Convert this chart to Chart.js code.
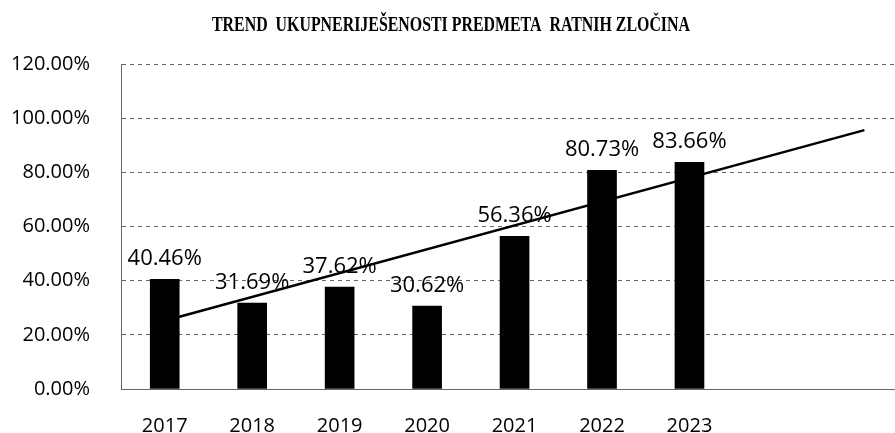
<!DOCTYPE html>
<html>
<head>
<meta charset="utf-8">
<script src="https://cdn.jsdelivr.net/npm/chart.js@4/dist/chart.umd.min.js"></script>
<style>
  html, body { margin: 0; padding: 0; background: #fff; overflow: hidden; }
  #wrap { width: 895px; height: 433px; position: relative; }
</style>
</head>
<body>
<div id="wrap"><canvas id="c"></canvas></div>
<script>
const chartTitle = 'TREND  UKUPNERIJEŠENOSTI PREDMETA  RATNIH ZLOČINA';
const years = ['2017', '2018', '2019', '2020', '2021', '2022', '2023'];
const resolvedPct = [40.46, 31.69, 37.62, 30.62, 56.36, 80.73, 83.66];
// linear trend line as drawn in the picture (start at 2017, extended two periods past 2023)
const trendX = [0, 8];
const trendPct = [25.2, 95.6];
const yTicks = [0, 20, 40, 60, 80, 100, 120];

const titlePlugin = {
  id: 'titleText',
  afterDraw(chart) {
    const ctx = chart.ctx;
    ctx.save();
    ctx.font = 'bold 21px "Liberation Serif", "DejaVu Serif", serif';
    ctx.fillStyle = '#000';
    ctx.textAlign = 'center';
    ctx.textBaseline = 'alphabetic';
    ctx.fillText(chartTitle, 451, 31, 478);
    ctx.restore();
  }
};

const valueLabels = {
  id: 'valueLabels',
  afterDatasetsDraw(chart) {
    const meta = chart.getDatasetMeta(0);
    const ctx = chart.ctx;
    ctx.save();
    ctx.font = '500 22px "Open Sans", "Noto Sans", sans-serif';
    ctx.fillStyle = '#000';
    ctx.textAlign = 'center';
    ctx.textBaseline = 'alphabetic';
    meta.data.forEach((el, i) => {
      ctx.fillText(resolvedPct[i].toFixed(2) + '%', el.x, el.y - 14);
    });
    ctx.restore();
  }
};

new Chart(document.getElementById('c'), {
  data: {
    datasets: [
      {
        type: 'bar',
        data: years.map((y, i) => ({ x: i, y: resolvedPct[i] })),
        backgroundColor: '#000',
        borderWidth: 0,
        barThickness: 29,
        order: 0
      },
      {
        type: 'line',
        data: trendX.map((x, i) => ({ x: x, y: trendPct[i] })),
        borderColor: '#000',
        borderWidth: 2.5,
        pointRadius: 0,
        fill: false,
        order: 1
      }
    ]
  },
  options: {
    responsive: true,
    maintainAspectRatio: false,
    animation: false,
    devicePixelRatio: 1,
    layout: { padding: { top: 64, right: 0, bottom: 0, left: 0 } },
    plugins: { legend: { display: false }, tooltip: { enabled: false }, title: { display: false } },
    scales: {
      x: {
        type: 'linear',
        offset: false,
        min: -0.5,
        max: 8.35,
        afterBuildTicks(scale) { scale.ticks = years.map((y, i) => ({ value: i })); },
        afterFit(scale) { scale.height = 44; },
        ticks: {
          callback: (v) => years[v] ?? '',
          color: '#000',
          font: { family: '"Open Sans", "Noto Sans", sans-serif', size: 20, weight: '500' },
          padding: 25,
          maxRotation: 0,
          autoSkip: false
        },
        grid: { display: false, drawTicks: false, offset: false },
        border: { display: true, color: '#666', width: 1, dash: [4, 4] }
      },
      y: {
        min: 0,
        max: 120,
        afterBuildTicks(scale) { scale.ticks = yTicks.map(v => ({ value: v })); },
        afterFit(scale) { scale.width = 121; },
        ticks: {
          callback: (v) => v.toFixed(2) + '%',
          color: '#000',
          font: { family: '"Open Sans", "Noto Sans", sans-serif', size: 20, weight: '500' },
          padding: 31
        },
        grid: { color: '#666', lineWidth: 1, drawTicks: false },
        border: { display: true, color: '#666', width: 1, dash: [4, 4] }
      }
    }
  },
  plugins: [titlePlugin, valueLabels]
});
</script>
</body>
</html>
